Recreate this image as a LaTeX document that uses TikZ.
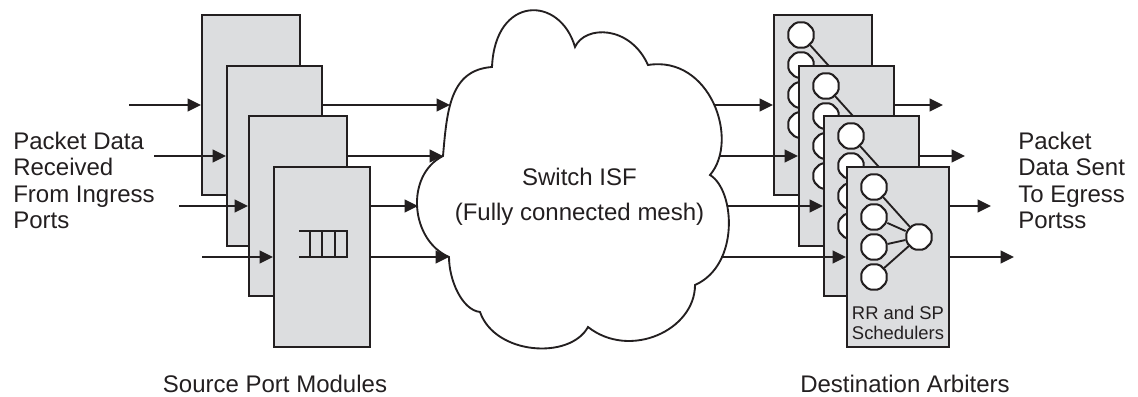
\documentclass[tikz,border=0pt]{standalone}
\usepackage{fontspec}
\setmainfont{Liberation Sans}
\usetikzlibrary{arrows.meta,shapes.geometric,calc}
\definecolor{ink}{HTML}{231F20}
\definecolor{boxgray}{HTML}{DCDDDF}
\tikzset{
  x=0.75pt, y=-0.75pt,
  box/.style={draw=ink, fill=boxgray, line width=1.5pt, minimum height=135pt, inner sep=0pt},
  arr/.style={draw=ink, line width=1.5pt, -{Triangle[length=10pt,width=9.5pt]}},
  sched/.style={draw=ink, fill=white, line width=1.5pt, regular polygon, regular polygon sides=8, minimum size=20.5pt, inner sep=0pt, rounded corners=1.5pt},
  link/.style={draw=ink, line width=1.4pt},
  qline/.style={draw=ink, line width=1pt},
  cloudline/.style={draw=ink, line width=1.4pt, fill=white},
  biglabel/.style={text=ink, inner sep=0pt, font=\fontsize{18}{19.7}\selectfont},
  smalllabel/.style={text=ink, inner sep=0pt, font=\fontsize{13.8}{15}\selectfont},
}
\newcommand\arbiterbox[4]{%
  \node[box, minimum width=#4*0.75pt] (#1) at (#2,#3) {};
  \foreach \k in {1,...,4} \node[sched] (#1c\k) at ({#2-#4/2+27},{#3-100+30*\k}) {};
  \node[sched] (#1m) at ({#2-#4/2+72},{#3-20}) {};
  \foreach \k in {1,...,4} \draw[link] (#1c\k) -- (#1m);
}
\begin{document}
\begin{tikzpicture}
\useasboundingbox (0,0) rectangle (1138,396);
% cloud
\draw[cloudline] (492,67) .. controls (495,-5) and (560,-5) .. (575,47)
  .. controls (585,25) and (630,25) .. (648,65)
  .. controls (710,55) and (740,140) .. (710,175)
  .. controls (735,190) and (740,265) .. (695,285)
  .. controls (695,330) and (630,360) .. (588,327)
  .. controls (570,360) and (495,355) .. (480,312)
  .. controls (462,310) and (449,280) .. (449,257)
  .. controls (410,240) and (405,175) .. (443,156)
  .. controls (447,110) and (450,70) .. (492,67) -- cycle;
\node[biglabel, align=center, font=\fontsize{18}{26.25}\selectfont] (isf) at (579.5,197) {Switch ISF\\(Fully connected mesh)};
% cloud boundary points
\coordinate (c1) at (450,105);
\coordinate (c2) at (443,156);
\coordinate (c3) at (418,206);
\coordinate (c4) at (449,257);
\coordinate (d1) at (714,105);
\coordinate (d2) at (719,156);
\coordinate (d3) at (727,206);
\coordinate (d4) at (721,257);
% free ends
\coordinate (a1) at (129,105);
\coordinate (a2) at (154,156);
\coordinate (a3) at (179,206);
\coordinate (a4) at (202,257);
\coordinate (o1) at (943,105);
\coordinate (o2) at (965,156);
\coordinate (o3) at (991,206);
\coordinate (o4) at (1014,257);
% source port modules
\node[box, minimum width=73.5pt] (S1) at (251,105) {};
\draw[arr] (S1.east) -- (c1);
\node[box, minimum width=71.25pt] (S2) at (274.5,156) {};
\draw[arr] (S2.east) -- (c2);
\node[box, minimum width=73.5pt] (S3) at (298,206) {};
\draw[arr] (S3.east) -- (c3);
\node[box, minimum width=72pt] (S4) at (322,257) {};
\draw[arr] (S4.east) -- (c4);
\draw[arr] (a1) -- (S1.west);
\draw[arr] (a2) -- (S2.west);
\draw[arr] (a3) -- (S3.west);
\draw[arr] (a4) -- (S4.west);
% queue
\draw[qline] (299,231) -- (347,231) -- (347,257) -- (299,257);
\draw[qline] (310,231) -- (310,257) (322,231) -- (322,257) (335,231) -- (335,257);
% destination arbiters
\arbiterbox{D1}{823}{105}{98}
\draw[arr] (D1.east) -- (o1);
\arbiterbox{D2}{846.5}{156}{95}
\draw[arr] (D2.east) -- (o2);
\arbiterbox{D3}{871.5}{206}{95}
\draw[arr] (D3.east) -- (o3);
\arbiterbox{D4}{898}{257}{102}
\draw[arr] (D4.east) -- (o4);
\draw[arr] (d1) -- (D1.west);
\draw[arr] (d2) -- (D2.west);
\draw[arr] (d3) -- (D3.west);
\draw[arr] (d4) -- (D4.west);
\node[smalllabel, align=center] (rrsp) at (898,323) {RR and SP\\Schedulers};
% labels
\node[biglabel, align=left, anchor=west] (inlab) at (13,180.5) {Packet Data\\Received\\From Ingress\\Ports};
\node[biglabel, align=left, anchor=west] (outlab) at (1018,180.5) {Packet\\Data Sent\\To Egress\\Portss};
\node[biglabel] (srclab) at (275,383.5) {Source Port Modules};
\node[biglabel] (dstlab) at (905,383.5) {Destination Arbiters};
\end{tikzpicture}
\end{document}
